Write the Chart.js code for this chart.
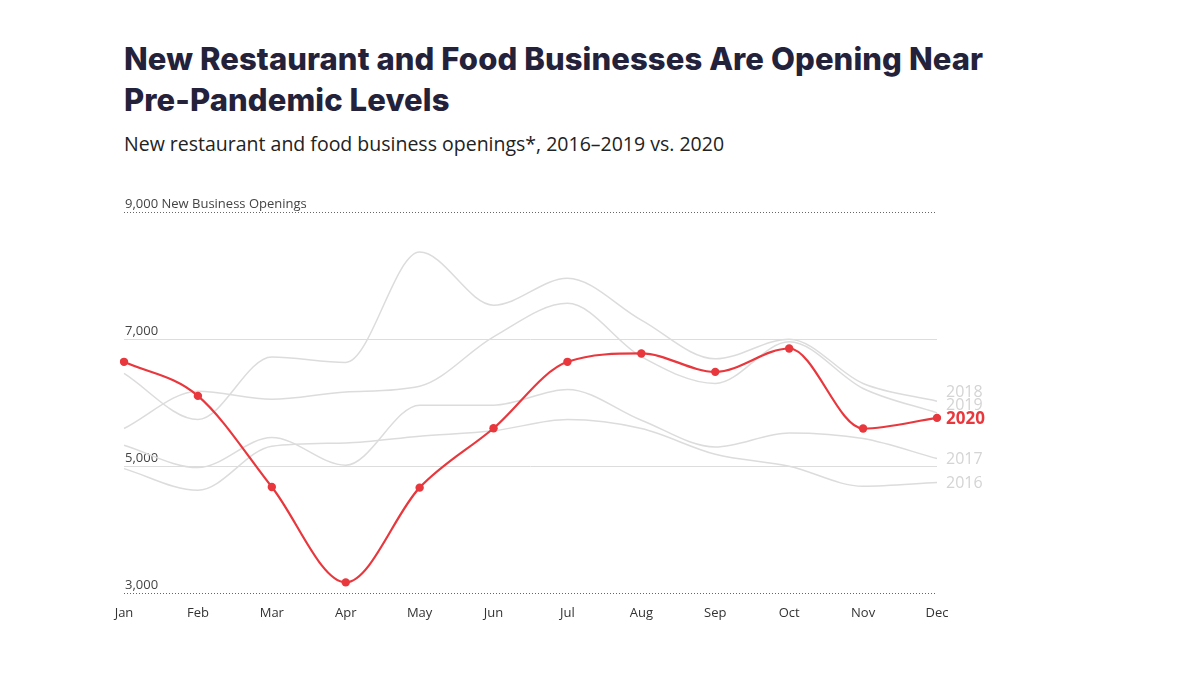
<!DOCTYPE html>
<html>
<head>
<meta charset="utf-8">
<script src="https://cdn.jsdelivr.net/npm/chart.js@4.4.0/dist/chart.umd.min.js"></script>
<style>
  html, body { margin: 0; padding: 0; background: #fff; }
  body { width: 1200px; height: 675px; position: relative; overflow: hidden; }
  #title {
    position: absolute; left: 124px; top: 38px;
    font-family: "Inter", "Noto Sans", sans-serif; font-weight: 800;
    font-size: 31px; line-height: 41px; color: #24223a; letter-spacing: 0.1px;
  }
  #subtitle {
    position: absolute; left: 124px; top: 130px;
    font-family: "Open Sans", sans-serif; font-size: 19.5px; color: #222;
  }
  #wrap { position: absolute; left: 0; top: 0; width: 1200px; height: 675px; }
</style>
</head>
<body>
<div id="title">New Restaurant and Food Businesses Are Opening Near<br>Pre-Pandemic Levels</div>
<div id="subtitle">New restaurant and food business openings*, 2016–2019 vs. 2020</div>
<div id="wrap"><canvas id="chart" width="1200" height="675"></canvas></div>
<script>
// month labels and yearly openings
const months = ["Jan", "Feb", "Mar", "Apr", "May", "Jun", "Jul", "Aug", "Sep", "Oct", "Nov", "Dec"];
const y2016 = [4963, 4622, 5315, 5367, 5473, 5557, 5735, 5594, 5189, 5000, 4685, 4743];
const y2017 = [5331, 4979, 5452, 5016, 5961, 5961, 6208, 5725, 5304, 5525, 5436, 5121];
const y2018 = [6460, 5735, 6720, 6633, 8370, 7535, 7957, 7299, 6690, 7000, 6302, 6024];
const y2019 = [5594, 6181, 6055, 6170, 6260, 7036, 7563, 6723, 6302, 6959, 6224, 5840];
const y2020 = [6643, 6107, 4674, 3173, 4664, 5598, 6643, 6775, 6485, 6853, 5594, 5761];
const yTicks = [3000, 5000, 7000, 9000];

const RED = "#e8383d";
const GRAY = "#dcdcdc";

// gridlines + y labels drawn from the y scale
const gridPlugin = {
  id: "grid",
  beforeDatasetsDraw(chart) {
    const ctx = chart.ctx, y = chart.scales.y, area = chart.chartArea;
    ctx.save();
    yTicks.forEach(function (v, i) {
      const py = Math.round(y.getPixelForValue(v)) + 0.5;
      const edge = (i == 0 || i == yTicks.length - 1);
      ctx.beginPath();
      if (edge) {
        ctx.setLineDash([1, 2]);
        ctx.strokeStyle = "#666";
      } else {
        ctx.setLineDash([]);
        ctx.strokeStyle = "#dddddd";
      }
      ctx.lineWidth = 1;
      ctx.moveTo(area.left, py);
      ctx.lineTo(area.right, py);
      ctx.stroke();
      ctx.setLineDash([]);
      ctx.fillStyle = "#444";
      ctx.font = "13px 'Open Sans'";
      ctx.textAlign = "left";
      ctx.textBaseline = "bottom";
      let txt = v.toLocaleString("en-US");
      if (i == yTicks.length - 1) txt += " New Business Openings";
      ctx.fillText(txt, area.left + 1, py - 2);
    });
    ctx.restore();
  }
};

// year labels at the end of each line, pushed apart so they don't overlap
const endLabels = {
  id: "endLabels",
  afterDatasetsDraw(chart) {
    const ctx = chart.ctx;
    let items = chart.data.datasets.map(function (ds, i) {
      const pts = chart.getDatasetMeta(i).data;
      const last = pts[pts.length - 1];
      return { label: ds.label, x: last.x, y: last.y, red: ds.label == "2020" };
    });
    // anchor on 2020, push the ones above upward, the ones below downward
    const anchor = items.find(function (d) { return d.red; });
    const above = items.filter(function (d) { return !d.red && d.y <= anchor.y; }).sort(function (a, b) { return b.y - a.y; });
    const below = items.filter(function (d) { return !d.red && d.y > anchor.y; }).sort(function (a, b) { return a.y - b.y; });
    let prev = anchor.y;
    above.forEach(function (d) { d.ly = Math.min(d.y, prev - 13); prev = d.ly; });
    prev = anchor.y;
    below.forEach(function (d) { d.ly = Math.max(d.y, prev + 15); prev = d.ly; });
    anchor.ly = anchor.y;
    ctx.save();
    ctx.textAlign = "left";
    ctx.textBaseline = "middle";
    items.forEach(function (d) {
      ctx.font = (d.red ? "bold 17px" : "16px") + " 'Open Sans'";
      ctx.fillStyle = d.red ? RED : "#d4d4d4";
      ctx.fillText(d.label, d.x + 9, d.ly + 1);
    });
    ctx.restore();
  }
};

function grayLine(label, data) {
  return {
    label: label, data: data,
    borderColor: GRAY, borderWidth: 1.5,
    pointRadius: 0, pointHoverRadius: 0,
    cubicInterpolationMode: "monotone", fill: false
  };
}

new Chart(document.getElementById("chart"), {
  type: "line",
  data: {
    labels: months,
    datasets: [
      {
        label: "2020", data: y2020,
        borderColor: RED, borderWidth: 2.2,
        pointRadius: 4.2, pointBackgroundColor: RED, pointBorderWidth: 0,
        cubicInterpolationMode: "monotone", fill: false
      },
      grayLine("2019", y2019),
      grayLine("2018", y2018),
      grayLine("2017", y2017),
      grayLine("2016", y2016)
    ]
  },
  options: {
    responsive: false,
    animation: false,
    devicePixelRatio: 1,
    layout: { padding: { left: 124, right: 263, top: 212, bottom: 50 } },
    plugins: { legend: { display: false }, tooltip: { enabled: false } },
    scales: {
      x: {
        grid: { display: false },
        border: { display: false },
        ticks: { color: "#333", font: { family: "Open Sans", size: 13 }, padding: 4, maxRotation: 0, autoSkip: false }
      },
      y: { display: false, min: 3000, max: 9000 }
    }
  },
  plugins: [gridPlugin, endLabels]
});
</script>
</body>
</html>
